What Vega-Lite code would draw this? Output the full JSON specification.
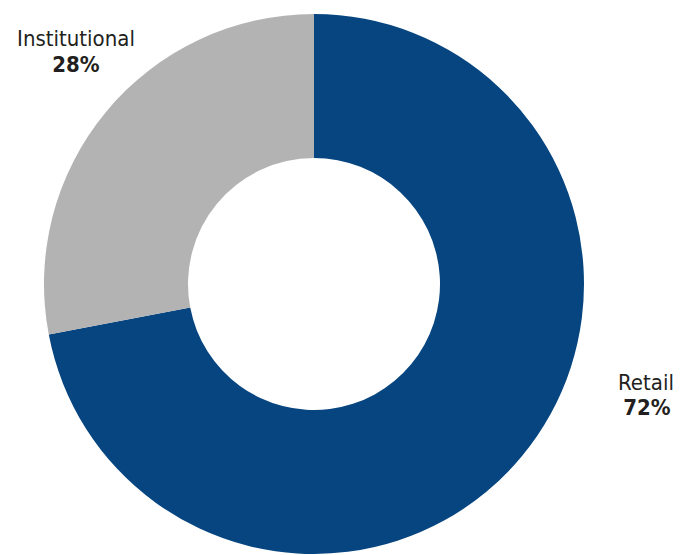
{
  "$schema": "https://vega.github.io/schema/vega-lite/v6.json",
  "width": 628,
  "height": 568,
  "padding": {"left": 0, "top": 0, "right": 53, "bottom": 0},
  "autosize": "none",
  "background": "white",
  "data": {"values": [
    {"segment": "Retail", "share": 72, "label": "72%", "order": 1},
    {"segment": "Institutional", "share": 28, "label": "28%", "order": 2}
  ]},
  "config": {"view": {"stroke": null}, "text": {"font": "DejaVu Sans Condensed, Liberation Sans", "fontSize": 22, "fill": "#231f20"}},
  "layer": [
    {
      "mark": {"type": "arc", "outerRadius": 270, "innerRadius": 126},
      "encoding": {
        "theta": {"field": "share", "type": "quantitative", "stack": true},
        "order": {"field": "order", "type": "quantitative"},
        "color": {"field": "segment", "type": "nominal", "legend": null,
          "scale": {"domain": ["Retail", "Institutional"], "range": ["#06457f", "#b4b3b3"]}}
      }
    },
    {
      "transform": [{"filter": "datum.segment === 'Institutional'"}],
      "mark": {"type": "text", "dx": -238, "dy": -245, "baseline": "middle", "align": "center"},
      "encoding": {"text": {"field": "segment"}}
    },
    {
      "transform": [{"filter": "datum.segment === 'Institutional'"}],
      "mark": {"type": "text", "dx": -238, "dy": -219, "baseline": "middle", "align": "center", "fontWeight": "bold"},
      "encoding": {"text": {"field": "label"}}
    },
    {
      "transform": [{"filter": "datum.segment === 'Retail'"}],
      "mark": {"type": "text", "dx": 332, "dy": 99, "baseline": "middle", "align": "center"},
      "encoding": {"text": {"field": "segment"}}
    },
    {
      "transform": [{"filter": "datum.segment === 'Retail'"}],
      "mark": {"type": "text", "dx": 333, "dy": 124, "baseline": "middle", "align": "center", "fontWeight": "bold"},
      "encoding": {"text": {"field": "label"}}
    }
  ]
}
